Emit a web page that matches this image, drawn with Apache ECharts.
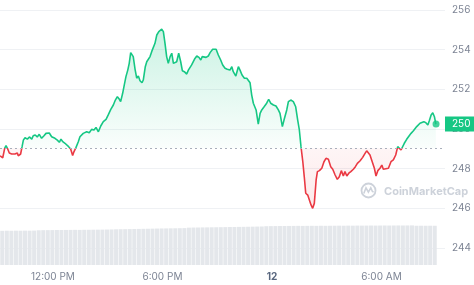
<!DOCTYPE html>
<html>
<head>
<meta charset="utf-8">
<script src="https://cdn.jsdelivr.net/npm/echarts@6/dist/echarts.min.js"></script>
<style>
html,body{margin:0;padding:0;background:#fff;}
#chart{width:474px;height:285px;}
</style>
</head>
<body>
<div id="chart"></div>
<script>
// time in hours (from midnight of day 11), price
const times = [9.10,9.19,9.25,9.36,9.43,9.50,9.61,9.74,9.92,10.05,10.10,10.23,10.31,10.38,10.47,10.60,10.71,10.84,10.92,11.03,11.14,11.25,11.38,11.51,11.62,11.69,11.80,11.93,12.02,12.11,12.24,12.35,12.44,12.54,12.66,12.75,12.86,12.97,13.08,13.15,13.26,13.39,13.48,13.66,13.85,13.99,14.12,14.25,14.36,14.49,14.62,14.76,14.91,15.03,15.17,15.31,15.42,15.53,15.64,15.71,15.82,15.91,16.00,16.10,16.18,16.26,16.33,16.40,16.50,16.59,16.68,16.77,16.88,16.95,17.06,17.14,17.23,17.32,17.41,17.50,17.59,17.69,17.80,17.87,17.96,18.05,18.14,18.23,18.32,18.42,18.51,18.60,18.69,18.78,18.89,19.00,19.09,19.20,19.33,19.42,19.60,19.78,19.88,20.00,20.10,20.18,20.28,20.39,20.51,20.61,20.75,20.84,20.94,21.06,21.19,21.30,21.43,21.55,21.70,21.80,21.88,22.02,22.16,22.25,22.36,22.49,22.62,22.80,22.89,22.98,23.13,23.25,23.35,23.44,23.57,23.71,23.82,23.93,24.08,24.22,24.35,24.44,24.57,24.66,24.81,24.90,25.03,25.17,25.30,25.41,25.50,25.59,25.69,25.77,25.85,25.96,26.05,26.14,26.23,26.32,26.42,26.49,26.60,26.73,26.85,26.96,27.09,27.22,27.33,27.46,27.58,27.69,27.80,27.91,28.00,28.10,28.21,28.32,28.46,28.57,28.68,28.83,28.97,29.10,29.19,29.28,29.37,29.52,29.61,29.70,29.80,29.92,30.02,30.10,30.20,30.38,30.52,30.65,30.78,30.89,30.96,31.07,31.14,31.25,31.38,31.51,31.62,31.75,31.84,31.93,32.02,32.11,32.21,32.32,32.43,32.54,32.62,32.72,32.81,32.90,32.97,32.99];
const prices = [248.65,248.74,248.55,249.04,249.16,249.04,248.79,248.74,248.74,248.79,248.65,248.74,249.11,249.44,249.56,249.49,249.60,249.49,249.66,249.70,249.60,249.73,249.53,249.66,249.78,249.86,249.80,249.61,249.66,249.53,249.44,249.33,249.49,249.36,249.28,249.19,249.11,248.99,248.66,248.85,249.06,249.36,249.61,249.78,249.86,249.81,249.98,249.95,250.08,249.86,250.15,250.37,250.49,250.71,250.99,251.21,251.46,251.63,251.50,251.38,251.80,252.22,252.64,252.97,253.31,253.85,253.90,253.65,253.01,252.56,252.67,252.43,252.33,252.47,253.14,253.39,253.34,253.65,253.90,253.95,254.32,254.74,254.91,254.96,255.03,254.91,254.32,253.65,253.31,253.65,253.82,253.31,253.23,253.39,253.82,253.39,252.94,252.89,252.77,252.97,253.23,253.56,253.68,253.61,253.48,253.65,253.73,253.61,253.68,253.85,254.02,254.12,254.02,253.73,253.48,253.23,253.06,253.01,252.97,253.14,252.89,252.67,253.14,252.97,252.72,252.56,252.56,252.33,251.71,251.30,250.96,250.25,250.79,250.96,251.12,251.30,251.50,251.30,251.21,251.16,250.96,250.79,250.12,250.45,250.96,251.38,251.46,251.38,251.12,250.45,249.95,249.11,248.35,247.59,246.76,246.67,246.59,246.17,246.00,246.25,247.43,247.85,247.90,248.02,248.35,248.52,248.47,248.10,247.97,247.68,247.46,247.59,247.90,247.63,247.85,247.63,247.77,247.85,247.97,248.10,248.27,248.40,248.57,248.77,248.90,248.94,248.69,248.27,248.02,247.63,247.90,248.02,248.18,247.97,248.07,248.02,248.35,248.44,248.69,249.11,249.14,248.94,249.03,249.28,249.48,249.65,249.78,249.91,249.98,250.12,250.15,250.29,250.20,250.37,250.32,250.20,250.42,250.71,250.82,250.62,250.29,250.25];
const basePrice = 249.03; // dotted reference (open) price
const volumes = [76.0,76.2,76.1,76.3,76.2,76.4,76.3,76.5,
 77.2,77.4,77.5,77.6,77.8,77.7,77.9,78.0,78.1,78.0,78.2,78.3,78.4,78.5,78.6,78.8,79.0,
 79.3,79.5,79.6,79.8,80.0,80.2,80.4,80.6,80.8,81.0,81.2,81.3,81.5,81.6,81.8,82.0,
 83.0,83.2,83.3,83.5,83.6,83.8,83.9,84.0,84.2,84.4,84.5,84.7,84.8,85.0,85.2,85.4,85.6,
 86.2,86.4,86.5,86.6,86.7,86.8,86.9,87.0,86.9,87.0,87.1,87.0,87.2,87.1,87.2,87.3,
 87.4,87.3,87.5,87.4,87.6,87.5,87.6,87.7,87.6,87.7,87.8,87.7,87.8,87.9,87.8,87.9,88.0,
 87.2,87.3,87.2,87.3,87.2];
const xTickValues = [12, 18, 24, 30];
const xTickLabels = ['12:00 PM', '6:00 PM', '12', '6:00 AM'];

const UP = '#16c784', DOWN = '#ea3943';
const lineData = times.map((t, i) => [t, prices[i]]);
const upArea = times.map((t, i) => [t, Math.max(prices[i], basePrice)]);
const downArea = times.map((t, i) => [t, Math.min(prices[i], basePrice)]);
const last = lineData[lineData.length - 1];
const volCats = volumes.map((v, i) => String(i));
const FONT = 'Inter, "Noto Sans", sans-serif';
const W = 474, H = 285;

const chart = echarts.init(document.getElementById('chart'), null, {renderer: 'canvas'});
chart.setOption({
  animation: false,
  backgroundColor: '#fff',
  grid: [
    {left: 0, right: 29, top: 10, bottom: 37},
    {left: 0, right: 37, top: 220, bottom: 20}
  ],
  xAxis: [
    {type: 'value', gridIndex: 0, min: 9.1, max: 33.48, offset: 17,
     axisLine: {show: false}, axisTick: {show: false}, splitLine: {show: false},
     axisLabel: {customValues: xTickValues, margin: 7, fontSize: 10, color: '#7d8494', fontFamily: FONT,
       formatter: function (v) {
         const i = xTickValues.indexOf(v);
         if (i < 0) return '';
         return v === 24 ? '{b|' + xTickLabels[i] + '}' : xTickLabels[i];
       },
       rich: {b: {fontWeight: 'bold', color: '#58667e', fontSize: 10, fontFamily: FONT}}}},
    {type: 'category', gridIndex: 1, data: volCats, show: false, boundaryGap: true}
  ],
  yAxis: [
    {type: 'value', gridIndex: 0, position: 'right', min: 244, max: 256, interval: 2,
     axisLine: {show: false}, axisTick: {show: false},
     splitLine: {lineStyle: {color: '#eff1f4', width: 1}},
     axisLabel: {margin: 7, fontSize: 10, color: '#7d8494', fontFamily: FONT}},
    {type: 'value', gridIndex: 1, min: 0, max: 100, show: false, splitLine: {show: false}}
  ],
  series: [
    {id: 'upArea', type: 'line', xAxisIndex: 0, yAxisIndex: 0, data: upArea, showSymbol: false, silent: true,
     lineStyle: {width: 0}, z: 1,
     areaStyle: {origin: basePrice, color: new echarts.graphic.LinearGradient(0, 0, 0, 1, [
       {offset: 0, color: 'rgba(22,199,132,0.32)'}, {offset: 1, color: 'rgba(22,199,132,0.03)'}])}},
    {id: 'downArea', type: 'line', xAxisIndex: 0, yAxisIndex: 0, data: downArea, showSymbol: false, silent: true,
     lineStyle: {width: 0}, z: 1,
     areaStyle: {origin: basePrice, color: new echarts.graphic.LinearGradient(0, 0, 0, 1, [
       {offset: 0, color: 'rgba(234,57,67,0.07)'}, {offset: 1, color: 'rgba(234,57,67,0.16)'}])}},
    {id: 'price', type: 'line', xAxisIndex: 0, yAxisIndex: 0, data: lineData, showSymbol: false, z: 3,
     lineStyle: {width: 1.6, color: UP}},
    {id: 'refLines', type: 'line', xAxisIndex: 0, yAxisIndex: 0, data: [], z: 5, silent: true,
     markLine: {silent: true, symbol: ['none', 'none'], animation: false,
       data: [
         {yAxis: basePrice, lineStyle: {type: [2, 3], color: '#a9afbb', width: 1}, label: {show: false}},
         {yAxis: last[1], lineStyle: {color: 'rgba(0,0,0,0)', width: 0},
          label: {show: true, position: 'end', distance: 0, formatter: String(Math.round(last[1])),
            backgroundColor: UP, color: '#fff', fontSize: 10, fontFamily: FONT, padding: [3, 7, 2, 7], opacity: 1}}
       ]}},
    {type: 'scatter', xAxisIndex: 0, yAxisIndex: 0, data: [last], symbolSize: 7, z: 4,
     itemStyle: {color: UP}, silent: true},
    {type: 'bar', xAxisIndex: 1, yAxisIndex: 1, data: volumes, barCategoryGap: '12%',
     itemStyle: {color: '#e4e7eb'}, silent: true, z: 0}
  ],
  graphic: [
    {type: 'circle', shape: {cx: 368.5, cy: 190.5, r: 7}, silent: true,
     style: {fill: 'none', stroke: '#cdd2da', lineWidth: 1.8}},
    {type: 'polyline', shape: {points: [[363.8, 193.5], [366, 187.8], [368.4, 192.2], [370.8, 187.8], [372.4, 191.5], [373.6, 192]]}, silent: true,
     style: {fill: 'none', stroke: '#cdd2da', lineWidth: 1.6}},
    {type: 'text', x: 384, y: 191.5, silent: true,
     style: {text: 'CoinMarketCap', fill: '#cdd2da', font: 'bold 11px ' + FONT, verticalAlign: 'middle', align: 'left'}}
  ]
});

// colour the price line green above the reference price and red below it
const yBase = chart.convertToPixel({yAxisIndex: 0}, basePrice);
const t = yBase / H;
chart.setOption({
  series: [{id: 'price', lineStyle: {color: new echarts.graphic.LinearGradient(0, 0, 0, H, [
    {offset: 0, color: UP}, {offset: t, color: UP}, {offset: t, color: DOWN}, {offset: 1, color: DOWN}], true)}}]
});
</script>
</body>
</html>
